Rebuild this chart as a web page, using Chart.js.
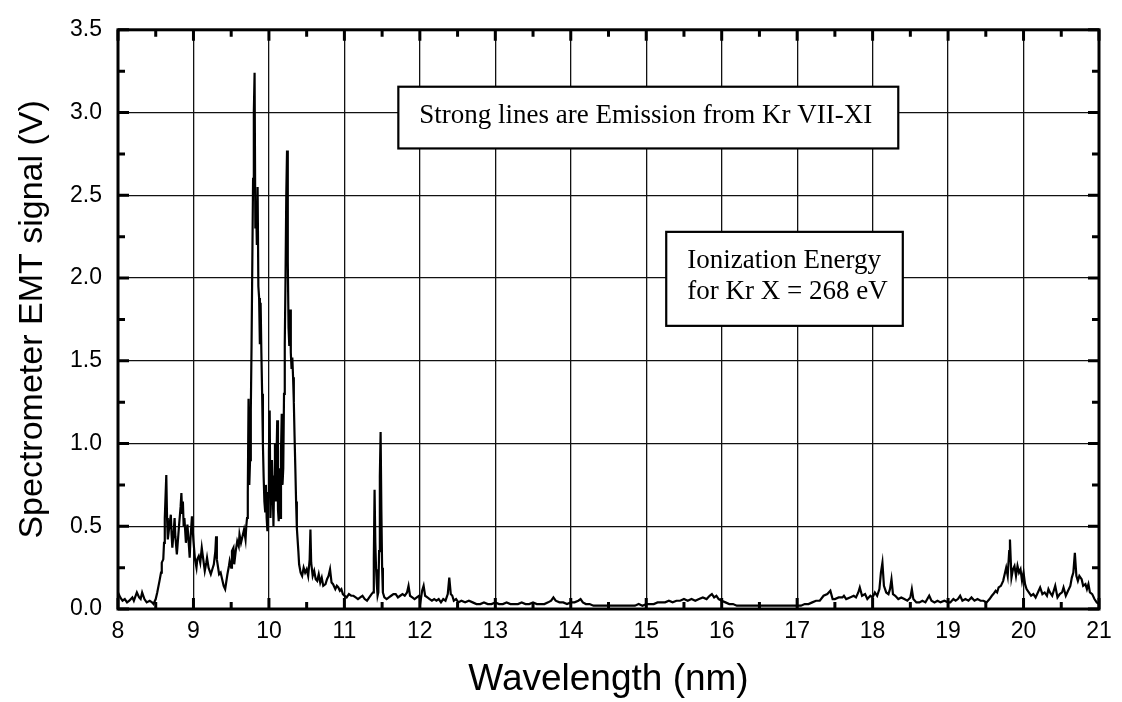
<!DOCTYPE html>
<html>
<head>
<meta charset="utf-8">
<script src="https://cdn.jsdelivr.net/npm/chart.js@4.4.1/dist/chart.umd.min.js"></script>
<style>
    body { margin: 0; background: #fff; }
</style>
</head>
<body>
<canvas id="spectrum" width="1122" height="702"></canvas>
<script>
// spectrum, 10 points per row
let wavelength = [
    8.00, 8.03, 8.06, 8.09, 8.12, 8.15, 8.19, 8.21, 8.25, 8.28,
    8.30, 8.32, 8.35, 8.38, 8.42, 8.45, 8.47, 8.50, 8.52, 8.55,
    8.57, 8.58, 8.60, 8.61, 8.62, 8.64, 8.65, 8.66, 8.68, 8.70,
    8.71, 8.72, 8.74, 8.75, 8.76, 8.78, 8.80, 8.81, 8.83, 8.84,
    8.85, 8.86, 8.87, 8.88, 8.90, 8.91, 8.92, 8.94, 8.95, 8.96,
    8.98, 8.99, 9.00, 9.02, 9.04, 9.05, 9.07, 9.09, 9.11, 9.13,
    9.15, 9.17, 9.18, 9.20, 9.23, 9.25, 9.27, 9.29, 9.30, 9.31,
    9.34, 9.36, 9.38, 9.40, 9.42, 9.44, 9.45, 9.47, 9.48, 9.50,
    9.51, 9.53, 9.54, 9.56, 9.58, 9.60, 9.61, 9.63, 9.65, 9.67,
    9.69, 9.70, 9.71, 9.72, 9.73, 9.74, 9.75, 9.76, 9.77, 9.78,
    9.79, 9.80, 9.81, 9.82, 9.83, 9.84, 9.85, 9.86, 9.87, 9.88,
    9.89, 9.90, 9.91, 9.92, 9.93, 9.94, 9.95, 9.96, 9.97, 9.98,
    9.99, 10.00, 10.01, 10.02, 10.03, 10.04, 10.05, 10.06, 10.07, 10.08,
    10.09, 10.10, 10.11, 10.12, 10.13, 10.14, 10.15, 10.16, 10.17, 10.18,
    10.19, 10.20, 10.21, 10.22, 10.23, 10.24, 10.25, 10.26, 10.27, 10.28,
    10.29, 10.30, 10.31, 10.32, 10.33, 10.34, 10.35, 10.36, 10.37, 10.39,
    10.40, 10.42, 10.44, 10.46, 10.48, 10.50, 10.52, 10.54, 10.55, 10.56,
    10.58, 10.60, 10.62, 10.64, 10.66, 10.68, 10.70, 10.72, 10.75, 10.77,
    10.79, 10.81, 10.83, 10.85, 10.88, 10.90, 10.92, 10.94, 10.96, 10.98,
    11.00, 11.03, 11.06, 11.09, 11.12, 11.15, 11.18, 11.21, 11.24, 11.27,
    11.30, 11.33, 11.36, 11.38, 11.39, 11.40, 11.41, 11.42, 11.43, 11.44,
    11.45, 11.46, 11.47, 11.48, 11.49, 11.50, 11.51, 11.53, 11.56, 11.59,
    11.62, 11.65, 11.68, 11.71, 11.74, 11.77, 11.80, 11.83, 11.85, 11.87,
    11.90, 11.93, 11.96, 11.99, 12.01, 12.03, 12.05, 12.07, 12.10, 12.13,
    12.16, 12.19, 12.22, 12.25, 12.28, 12.31, 12.34, 12.37, 12.39, 12.41,
    12.43, 12.45, 12.48, 12.51, 12.55, 12.60, 12.65, 12.70, 12.75, 12.80,
    12.85, 12.90, 12.95, 13.00, 13.05, 13.10, 13.15, 13.20, 13.25, 13.30,
    13.35, 13.40, 13.45, 13.50, 13.55, 13.60, 13.65, 13.70, 13.74, 13.77,
    13.80, 13.85, 13.90, 13.95, 14.00, 14.05, 14.10, 14.13, 14.16, 14.20,
    14.25, 14.30, 14.35, 14.40, 14.45, 14.50, 14.55, 14.60, 14.65, 14.70,
    14.75, 14.80, 14.85, 14.90, 14.95, 15.00, 15.05, 15.10, 15.15, 15.20,
    15.25, 15.30, 15.35, 15.40, 15.45, 15.50, 15.55, 15.60, 15.65, 15.70,
    15.75, 15.80, 15.84, 15.87, 15.90, 15.93, 15.96, 16.00, 16.05, 16.10,
    16.15, 16.20, 16.30, 16.40, 16.50, 16.60, 16.70, 16.80, 16.90, 17.00,
    17.05, 17.10, 17.15, 17.20, 17.25, 17.30, 17.35, 17.40, 17.44, 17.47,
    17.50, 17.55, 17.60, 17.62, 17.65, 17.70, 17.75, 17.78, 17.81, 17.83,
    17.86, 17.90, 17.93, 17.97, 18.00, 18.03, 18.06, 18.09, 18.11, 18.13,
    18.15, 18.18, 18.21, 18.23, 18.25, 18.27, 18.30, 18.34, 18.38, 18.42,
    18.46, 18.50, 18.52, 18.54, 18.58, 18.62, 18.66, 18.70, 18.75, 18.78,
    18.82, 18.86, 18.90, 18.95, 19.00, 19.03, 19.07, 19.10, 19.13, 19.16,
    19.19, 19.23, 19.27, 19.31, 19.35, 19.39, 19.43, 19.47, 19.51, 19.55,
    19.58, 19.60, 19.63, 19.65, 19.67, 19.70, 19.73, 19.75, 19.77, 19.79,
    19.81, 19.82, 19.83, 19.84, 19.86, 19.88, 19.90, 19.92, 19.94, 19.96,
    19.98, 20.00, 20.02, 20.04, 20.07, 20.10, 20.13, 20.16, 20.19, 20.22,
    20.25, 20.28, 20.31, 20.33, 20.35, 20.38, 20.42, 20.45, 20.48, 20.51,
    20.53, 20.56, 20.59, 20.62, 20.64, 20.66, 20.68, 20.70, 20.72, 20.74,
    20.77, 20.79, 20.82, 20.84, 20.86, 20.88, 20.91, 20.94, 20.97, 21.00
];

let signal = [
    0.10, 0.07, 0.05, 0.06, 0.04, 0.05, 0.07, 0.05, 0.10, 0.07,
    0.06, 0.10, 0.06, 0.04, 0.05, 0.04, 0.03, 0.06, 0.10, 0.17,
    0.22, 0.28, 0.30, 0.40, 0.55, 0.81, 0.55, 0.42, 0.50, 0.57,
    0.45, 0.37, 0.48, 0.55, 0.44, 0.33, 0.45, 0.51, 0.62, 0.70,
    0.58, 0.65, 0.50, 0.55, 0.40, 0.45, 0.51, 0.38, 0.31, 0.42,
    0.56, 0.48, 0.41, 0.30, 0.25, 0.30, 0.32, 0.28, 0.37, 0.30,
    0.23, 0.28, 0.31, 0.25, 0.21, 0.24, 0.27, 0.35, 0.44, 0.30,
    0.21, 0.22, 0.18, 0.14, 0.12, 0.18, 0.21, 0.26, 0.29, 0.25,
    0.35, 0.37, 0.27, 0.35, 0.41, 0.38, 0.45, 0.40, 0.44, 0.48,
    0.42, 0.50, 0.55, 0.70, 1.27, 0.75, 0.90, 1.20, 1.60, 2.10,
    2.60, 3.00, 3.24, 2.30, 2.45, 2.20, 2.55, 1.95, 1.88, 1.60,
    1.85, 1.55, 1.30, 1.00, 0.80, 0.65, 0.59, 0.75, 0.55, 0.47,
    0.70, 0.95, 1.20, 0.55, 0.70, 0.90, 0.75, 0.50, 0.80, 1.00,
    0.65, 0.90, 1.14, 0.60, 0.53, 0.85, 0.55, 0.95, 1.18, 0.75,
    0.85, 1.30, 1.60, 2.00, 2.50, 2.77, 2.10, 1.70, 1.59, 1.81,
    1.55, 1.45, 1.52, 1.40, 1.25, 1.04, 0.85, 0.65, 0.49, 0.35,
    0.27, 0.22, 0.20, 0.25, 0.22, 0.24, 0.20, 0.30, 0.48, 0.28,
    0.20, 0.23, 0.18, 0.17, 0.21, 0.16, 0.19, 0.14, 0.15, 0.18,
    0.20, 0.24, 0.16, 0.15, 0.12, 0.14, 0.13, 0.11, 0.12, 0.09,
    0.08, 0.07, 0.09, 0.08, 0.08, 0.07, 0.06, 0.07, 0.08, 0.06,
    0.05, 0.07, 0.09, 0.10, 0.30, 0.72, 0.40, 0.24, 0.15, 0.08,
    0.10, 0.35, 0.80, 1.07, 0.60, 0.25, 0.10, 0.07, 0.06, 0.07,
    0.08, 0.09, 0.09, 0.07, 0.08, 0.09, 0.08, 0.10, 0.14, 0.08,
    0.07, 0.06, 0.07, 0.08, 0.05, 0.11, 0.14, 0.08, 0.07, 0.06,
    0.05, 0.06, 0.05, 0.06, 0.04, 0.06, 0.05, 0.09, 0.19, 0.09,
    0.08, 0.05, 0.06, 0.04, 0.05, 0.04, 0.05, 0.04, 0.03, 0.03,
    0.04, 0.03, 0.03, 0.04, 0.03, 0.03, 0.04, 0.03, 0.03, 0.03,
    0.04, 0.03, 0.03, 0.04, 0.03, 0.03, 0.03, 0.04, 0.05, 0.07,
    0.05, 0.04, 0.04, 0.03, 0.04, 0.04, 0.05, 0.06, 0.04, 0.03,
    0.03, 0.02, 0.02, 0.02, 0.02, 0.02, 0.02, 0.02, 0.02, 0.02,
    0.02, 0.02, 0.02, 0.03, 0.02, 0.03, 0.03, 0.03, 0.04, 0.04,
    0.04, 0.05, 0.04, 0.05, 0.05, 0.06, 0.05, 0.06, 0.05, 0.06,
    0.07, 0.06, 0.08, 0.09, 0.07, 0.08, 0.06, 0.05, 0.04, 0.03,
    0.03, 0.02, 0.02, 0.02, 0.02, 0.02, 0.02, 0.02, 0.02, 0.02,
    0.02, 0.03, 0.03, 0.04, 0.05, 0.05, 0.08, 0.09, 0.11, 0.06,
    0.06, 0.07, 0.07, 0.08, 0.06, 0.07, 0.08, 0.07, 0.10, 0.13,
    0.08, 0.09, 0.06, 0.08, 0.07, 0.10, 0.08, 0.12, 0.22, 0.28,
    0.14, 0.10, 0.09, 0.12, 0.18, 0.09, 0.08, 0.06, 0.07, 0.06,
    0.05, 0.07, 0.12, 0.06, 0.04, 0.04, 0.05, 0.04, 0.08, 0.05,
    0.04, 0.05, 0.04, 0.05, 0.04, 0.04, 0.06, 0.05, 0.06, 0.08,
    0.05, 0.06, 0.05, 0.07, 0.05, 0.06, 0.05, 0.05, 0.04, 0.06,
    0.08, 0.09, 0.11, 0.10, 0.13, 0.14, 0.17, 0.21, 0.25, 0.20,
    0.35, 0.42, 0.30, 0.19, 0.24, 0.26, 0.20, 0.26, 0.22, 0.24,
    0.17, 0.22, 0.15, 0.12, 0.10, 0.08, 0.09, 0.07, 0.10, 0.13,
    0.09, 0.10, 0.08, 0.12, 0.10, 0.08, 0.14, 0.07, 0.09, 0.10,
    0.13, 0.08, 0.11, 0.14, 0.19, 0.22, 0.34, 0.20, 0.17, 0.20,
    0.18, 0.14, 0.15, 0.12, 0.15, 0.10, 0.09, 0.06, 0.04, 0.03
];

let xTickValues = [8, 9, 10, 11, 12, 13, 14, 15, 16, 17, 18, 19, 20, 21];
let yTickValues = [0, 0.5, 1.0, 1.5, 2.0, 2.5, 3.0, 3.5];
let yTickLabels = ["0.0", "0.5", "1.0", "1.5", "2.0", "2.5", "3.0", "3.5"];

// text boxes, corners given in axis units
let notes = [
    {lines: ["Strong lines are Emission from Kr VII-XI"], left: 11.715, right: 18.34, top: 3.156, bottom: 2.783},
    {lines: ["Ionization Energy", "for Kr X = 268 eV"], left: 15.265, right: 18.40, top: 2.279, bottom: 1.711}
];

let sansFont = "'Liberation Sans', Arial, sans-serif";
let serifFont = "'Liberation Serif', 'Times New Roman', serif";

function midpoints(values) {
    let result = [];
    for (let i = 0; i < values.length - 1; i++) {
        result.push((values[i] + values[i + 1]) / 2);
    }
    return result;
}

function drawTicks(ctx, area, xScale, yScale, xValues, yValues, len) {
    for (let v of xValues) {
        let px = xScale.getPixelForValue(v);
        ctx.beginPath();
        ctx.moveTo(px, area.bottom);
        ctx.lineTo(px, area.bottom - len);
        ctx.moveTo(px, area.top);
        ctx.lineTo(px, area.top + len);
        ctx.stroke();
    }
    for (let v of yValues) {
        let py = yScale.getPixelForValue(v);
        ctx.beginPath();
        ctx.moveTo(area.left, py);
        ctx.lineTo(area.left + len, py);
        ctx.moveTo(area.right, py);
        ctx.lineTo(area.right - len, py);
        ctx.stroke();
    }
}

let frameAndNotes = {
    id: "frameAndNotes",
    afterDatasetsDraw(chart) {
        let ctx = chart.ctx;
        let area = chart.chartArea;
        let xScale = chart.scales.x;
        let yScale = chart.scales.y;

        ctx.save();
        ctx.strokeStyle = "#000";
        ctx.lineWidth = 3;
        ctx.strokeRect(area.left, area.top, area.right - area.left, area.bottom - area.top);
        drawTicks(ctx, area, xScale, yScale, xTickValues, yTickValues, 11);
        drawTicks(ctx, area, xScale, yScale, midpoints(xTickValues), midpoints(yTickValues), 7);

        for (let note of notes) {
            let x0 = xScale.getPixelForValue(note.left);
            let x1 = xScale.getPixelForValue(note.right);
            let y0 = yScale.getPixelForValue(note.top);
            let y1 = yScale.getPixelForValue(note.bottom);
            ctx.fillStyle = "#fff";
            ctx.fillRect(x0, y0, x1 - x0, y1 - y0);
            ctx.lineWidth = 2.2;
            ctx.strokeRect(x0, y0, x1 - x0, y1 - y0);
            ctx.fillStyle = "#000";
            ctx.font = "27px " + serifFont;
            ctx.textBaseline = "alphabetic";
            ctx.textAlign = "left";
            note.lines.forEach((line, i) => {
                ctx.fillText(line, x0 + 21, y0 + 36 + i * 31);
            });
        }
        ctx.restore();
    }
};

let points = wavelength.map((w, i) => ({x: w, y: signal[i]}));

let ctx = document.getElementById("spectrum").getContext("2d");
let chart = new Chart(ctx, {
    type: "line",
    data: {
        datasets: [{
            data: points,
            borderColor: "#000",
            borderWidth: 2.2,
            pointRadius: 0,
            tension: 0,
            fill: false
        }]
    },
    options: {
        responsive: false,
        animation: false,
        layout: {padding: {top: 18, right: 23, left: 0, bottom: 0}},
        plugins: {
            legend: {display: false},
            tooltip: {enabled: false}
        },
        scales: {
            x: {
                type: "linear",
                min: 8,
                max: 21,
                afterBuildTicks: (scale) => {
                    scale.ticks = xTickValues.map(v => ({value: v}));
                },
                afterFit: (scale) => {
                    scale.height = 93;
                },
                grid: {color: "#111", lineWidth: 1.3, drawTicks: false},
                border: {display: false},
                ticks: {
                    color: "#000",
                    font: {family: sansFont, size: 23},
                    padding: 9,
                    maxRotation: 0,
                    autoSkip: false
                },
                title: {
                    display: true,
                    text: "Wavelength (nm)",
                    color: "#000",
                    font: {family: sansFont, size: 37},
                    padding: 0
                }
            },
            y: {
                min: 0,
                max: 3.5,
                afterBuildTicks: (scale) => {
                    scale.ticks = yTickValues.map(v => ({value: v}));
                },
                afterFit: (scale) => {
                    scale.width = 118;
                },
                grid: {color: "#111", lineWidth: 1.3, drawTicks: false},
                border: {display: false},
                ticks: {
                    color: "#000",
                    font: {family: sansFont, size: 23},
                    padding: 16,
                    callback: (value) => yTickLabels[yTickValues.indexOf(value)]
                },
                title: {
                    display: true,
                    text: "Spectrometer EMT signal (V)",
                    color: "#000",
                    font: {family: sansFont, size: 34},
                    padding: {top: 12, bottom: 0}
                }
            }
        }
    },
    plugins: [frameAndNotes]
});
</script>
</body>
</html>
